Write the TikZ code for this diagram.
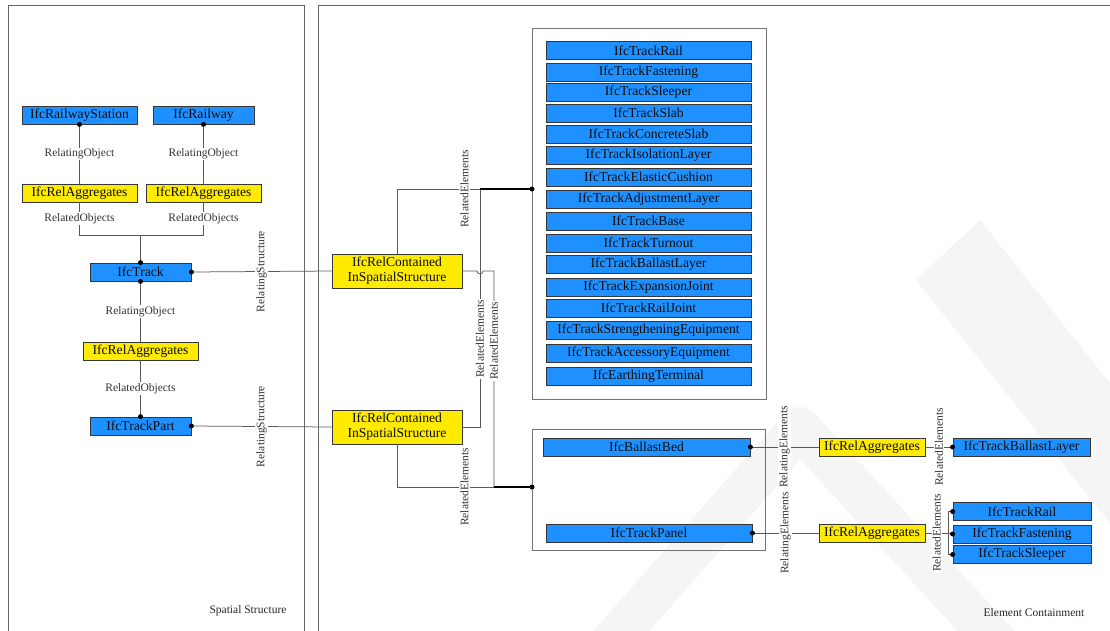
\documentclass[tikz,border=0pt]{standalone}
\usepackage{fontspec}
\setmainfont{Liberation Serif}
\definecolor{ifcblue}{RGB}{30,144,255}
\definecolor{ifcyellow}{RGB}{255,235,0}
\definecolor{bord}{RGB}{55,55,55}
\definecolor{wm}{RGB}{245,245,245}
\tikzset{
 box/.style={draw=bord, line width=0.8pt, inner sep=0pt, minimum height=18pt, font=\fontsize{13.6}{15}\selectfont, text=black!95},
 bbox/.style={box, fill=ifcblue},
 ybox/.style={box, fill=ifcyellow},
 conn/.style={draw=black!65, line width=0.75pt},
 trunk/.style={draw=black, line width=1.1pt},
 lbl/.style={fill=white, inner sep=1pt, font=\fontsize{11.5}{13}\selectfont, text=black!80},
 vlbl/.style={lbl, rotate=90},
 dot/.style={circle, fill=black, inner sep=0pt, minimum size=5pt},
 panel/.style={draw=black!60, line width=0.8pt},
 grp/.style={draw=black!55, line width=0.9pt, inner sep=0pt},
 wmark/.style={draw=wm, line join=round},
 foot/.style={font=\fontsize{11.5}{13}\selectfont, text=black!85},
}
\begin{document}
\begin{tikzpicture}[x=1pt,y=-1pt]
\useasboundingbox (0,0) rectangle (1110,630);
\clip (0,0) rectangle (1110,630);
% watermark
\draw[wmark, line width=42pt] (586,671) -- (800,428) -- (1040,690);
\fill[wm] (916,280) -- (980,220) -- (1120,396) -- (1120,536) -- cycle;
% panels
\draw[panel] (8,660) -- (8,5) -- (304,5) -- (304,660);
\draw[panel] (318,660) -- (318,5) -- (1130,5);
\node[foot] (sslbl) at (248,611) {Spatial Structure};
\node[foot] (eclbl) at (1034,613) {Element Containment};
% left column
\node[bbox, minimum width=115pt] (rs) at (79.5,115) {IfcRailwayStation};
\node[bbox, minimum width=101pt] (rw) at (203.5,115) {IfcRailway};
\node[ybox, minimum width=115pt] (ag1) at (79.5,193) {IfcRelAggregates};
\node[ybox, minimum width=115pt] (ag2) at (203.5,193) {IfcRelAggregates};
\node[bbox, minimum width=101pt] (tr) at (140.5,272) {IfcTrack};
\node[ybox, minimum width=115pt] (ag3) at (140.5,351) {IfcRelAggregates};
\node[bbox, minimum width=101pt] (tp) at (140.5,426) {IfcTrackPart};
\node[ybox, minimum width=130pt, minimum height=34pt, align=center] (rc1) at (397,271) {IfcRelContained\\InSpatialStructure};
\node[ybox, minimum width=130pt, minimum height=34pt, align=center] (rc2) at (397,427) {IfcRelContained\\InSpatialStructure};
% big group
\node[grp, minimum width=234pt, minimum height=371pt] (bigb) at (649,213.5) {};
\foreach \n/\y/\t in {1/50.5/IfcTrackRail, 2/72/IfcTrackFastening, 3/92/IfcTrackSleeper, 4/113/IfcTrackSlab, 5/134/IfcTrackConcreteSlab, 6/155.5/IfcTrackIsolationLayer, 7/177/IfcTrackElasticCushion, 8/199/IfcTrackAdjustmentLayer, 9/221/IfcTrackBase, 10/243/IfcTrackTurnout, 11/264.5/IfcTrackBallastLayer, 12/287/IfcTrackExpansionJoint, 13/308/IfcTrackRailJoint, 14/330.5/IfcTrackStrengtheningEquipment, 15/353/IfcTrackAccessoryEquipment, 16/376/IfcEarthingTerminal}
  \node[bbox, minimum width=205pt] (e\n) at (648.5,\y) {\t};
% lower group
\node[grp, minimum width=233pt, minimum height=121pt] (lowb) at (648.5,489.5) {};
\node[bbox, minimum width=207pt] (bb) at (646.5,447) {IfcBallastBed};
\node[bbox, minimum width=206pt] (tpn) at (649,533) {IfcTrackPanel};
\node[ybox, minimum width=106pt] (ra1) at (872,447) {IfcRelAggregates};
\node[ybox, minimum width=106pt] (ra2) at (872,533) {IfcRelAggregates};
\node[bbox, minimum width=137pt] (tbl) at (1021.5,447) {IfcTrackBallastLayer};
\node[bbox, minimum width=138pt] (r1) at (1022,511.5) {IfcTrackRail};
\node[bbox, minimum width=138pt] (f1) at (1022,534) {IfcTrackFastening};
\node[bbox, minimum width=138pt] (s1) at (1022,554.5) {IfcTrackSleeper};
% left connectors
\draw[conn] (rs.south) -- node[lbl]{RelatingObject} (ag1.north);
\draw[conn] (rw.south) -- node[lbl]{RelatingObject} (ag2.north);
\coordinate (j1) at (140.5,235);
\draw[conn] (ag1.south) -- node[lbl]{RelatedObjects} (ag1.south |- j1) -- (ag2.south |- j1) -- node[lbl]{RelatedObjects} (ag2.south);
\draw[conn] (j1) -- (tr.north);
\draw[conn] (tr.east) -- node[vlbl]{RelatingStructure} (rc1.west);
\draw[conn] (tr.south) -- node[lbl]{RelatingObject} (ag3.north);
\draw[conn] (ag3.south) -- node[lbl]{RelatedObjects} (tp.north);
\draw[conn] (tp.east) -- node[vlbl]{RelatingStructure} (rc2.west);
% containment connectors
\coordinate (bin) at (532,189);
\coordinate (b2in) at (532,487);
\coordinate (k1) at (480,189);
\coordinate (k2) at (494,487);
\draw[conn] (rc1.north) -- (rc1.north |- bin) -- node[vlbl]{RelatedElements} (bin);
\draw[conn] (rc2.east) -- (rc2.east -| k1) -- node[vlbl, pos=0.37]{RelatedElements} (k1);
\draw[conn] (rc1.east) -- ([xshift=-3pt]rc1.east -| k1) arc[start angle=180, end angle=360, radius=3pt] -- (rc1.east -| k2) -- node[vlbl, pos=0.324]{RelatedElements} (k2);
\draw[conn] (rc2.south) -- (rc2.south |- b2in) -- node[vlbl]{RelatedElements} (b2in);
\draw[trunk] (k1) -- (bin);
\draw[trunk] (k2) -- (b2in);
% right connectors
\coordinate (br) at (948,533);
\draw[conn] (bb.east) -- node[vlbl]{RelatingElements} (ra1.west);
\draw[conn] (tpn.east) -- node[vlbl]{RelatingElements} (ra2.west);
\draw[conn] (ra1.east) -- node[vlbl]{RelatedElements} (tbl.west);
\draw[conn] (ra2.east) -- node[vlbl]{RelatedElements} (br);
\draw[conn] (r1.west) -- (br |- r1.west) -- (br |- s1.west) -- (s1.west);
\draw[conn] (br) -- (f1.west);
% dots
\foreach \p in {rs.south, rw.south, tr.north, tr.east, tr.south, tp.north, tp.east, bin, b2in, bb.east, tpn.east, tbl.west, r1.west, f1.west, s1.west}
  \node[dot] at (\p) {};
\end{tikzpicture}
\end{document}
